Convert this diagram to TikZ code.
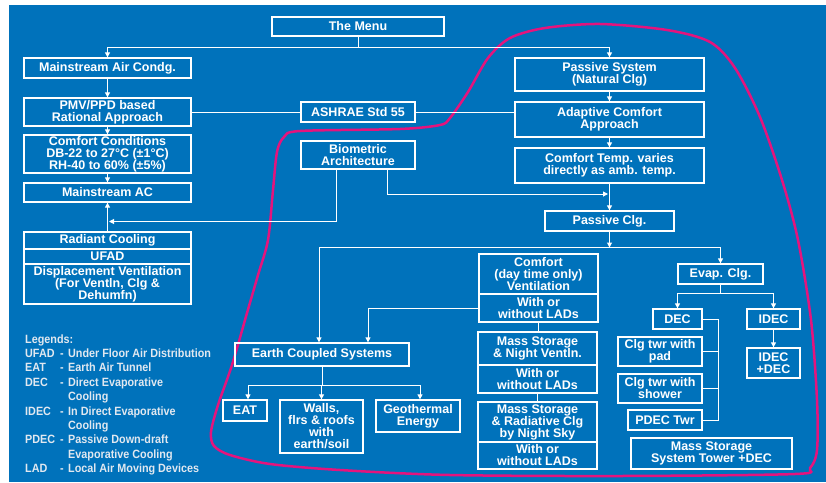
\documentclass[tikz,border=0pt]{standalone}
\usepackage{fontspec}
\setmainfont{Liberation Sans}
\newfontfamily\legendfont[FakeStretch=0.9]{Liberation Sans}
\usetikzlibrary{arrows.meta}
\definecolor{bgblue}{RGB}{0,114,187}
\definecolor{loopmag}{RGB}{228,20,125}
\definecolor{legtext}{RGB}{225,232,240}

\begin{document}
\begin{tikzpicture}[x=1pt, y=-1pt,
    box/.style={draw=white, line width=1.3pt, text=white, inner sep=0pt, align=center,
      font=\bfseries\fontsize{12.5}{12}\selectfont},
    wire/.style={draw=white, line width=1pt},
    arr/.style={-{Triangle[length=5pt,width=5pt]}},
    legend/.style={text=legtext, inner sep=0pt, anchor=base west,
      font=\legendfont\bfseries\fontsize{12}{14}\selectfont}]

  \useasboundingbox (0,0) rectangle (826,482);
  \fill[bgblue] (9,5) rectangle (826,482);

  % the loop round the passive side
  \draw[loopmag, line width=2.5pt] plot[smooth cycle, tension=0.5] coordinates {
    (450,118) (440,125) (400,129) (300,131) (284,137) (277,152) (273,190)
    (268,240) (258,275) (247,313) (232,365) (218,405) (211,432) (214,446)
    (230,455) (270,464) (340,470) (450,475) (620,476) (795,474) (810,468)
    (817,450) (817,400) (811,320) (798,240) (782,180) (760,117) (735,68)
    (710,42) (667,30) (600,24) (545,28) (510,38) (488,58) (468,92)};

  % mainstream side
  \node[box, minimum width=172pt, minimum height=19pt] (menu) at (358,26.5) {The Menu};
  \node[box, minimum width=167pt, minimum height=20pt] (mainac) at (107.5,68) {Mainstream Air Condg.};
  \node[box, minimum width=167pt, minimum height=28pt] (pmv) at (107.5,112) {PMV/PPD based\\Rational Approach};
  \node[box, minimum width=167pt, minimum height=38pt] (cond) at (107.5,154) {Comfort Conditions\\DB-22 to 27°C (±1°C)\\RH-40 to 60\% (±5\%)};
  \node[box, minimum width=167pt, minimum height=19pt] (mac) at (107.5,192.5) {Mainstream AC};
  \node[box, minimum width=167pt, minimum height=17pt] (radiant) at (107.5,240.5) {Radiant Cooling};
  \node[box, minimum width=167pt, minimum height=15pt] (ufad) at (107.5,256.5) {UFAD};
  \node[box, minimum width=167pt, minimum height=40pt] (displ) at (107.5,284) {Displacement Ventilation\\(For Ventln, Clg \&\\Dehumfn)};

  \node[box, minimum width=114pt, minimum height=20pt] (ashrae) at (358,112) {ASHRAE Std 55};
  \node[box, minimum width=114pt, minimum height=28pt] (bio) at (358,155) {Biometric\\Architecture};

  % passive side
  \node[box, minimum width=189pt, minimum height=33pt] (passive) at (609.5,74.5) {Passive System\\(Natural Clg)};
  \node[box, minimum width=189pt, minimum height=35pt] (adaptive) at (609.5,119.5) {Adaptive Comfort\\Approach};
  \node[box, minimum width=189pt, minimum height=35pt] (ctemp) at (609.5,165.5) {Comfort Temp. varies\\directly as amb. temp.};
  \node[box, minimum width=129pt, minimum height=20pt] (pclg) at (609.5,221) {Passive Clg.};

  \node[box, minimum width=119pt, minimum height=40pt] (comfort) at (538.5,274) {Comfort\\(day time only)\\Ventilation};
  \node[box, minimum width=119pt, minimum height=28pt] (lads1) at (538.5,308) {With or\\without LADs};
  \node[box, minimum width=119pt, minimum height=33pt] (msnv) at (537.5,348.5) {Mass Storage\\\& Night Ventln.};
  \node[box, minimum width=119pt, minimum height=28pt] (lads2) at (537.5,379) {With or\\without LADs};
  \node[box, minimum width=119pt, minimum height=40pt] (msrad) at (537.5,422) {Mass Storage\\\& Radiative Clg\\by Night Sky};
  \node[box, minimum width=119pt, minimum height=27pt] (lads3) at (537.5,455.5) {With or\\without LADs};

  \node[box, minimum width=174pt, minimum height=23pt] (ecs) at (322,354.5) {Earth Coupled Systems};
  \node[box, minimum width=44pt, minimum height=21pt] (eat) at (245,410.5) {EAT};
  \node[box, minimum width=83pt, minimum height=53pt] (walls) at (321.5,426.5) {Walls,\\flrs \& roofs\\with\\earth/soil};
  \node[box, minimum width=84pt, minimum height=32pt] (geo) at (418,416) {Geothermal\\Energy};

  \node[box, minimum width=85pt, minimum height=20pt] (evap) at (720.5,274) {Evap. Clg.};
  \node[box, minimum width=49pt, minimum height=20pt] (dec) at (677.5,319) {DEC};
  \node[box, minimum width=53pt, minimum height=20pt] (idec) at (773.5,319) {IDEC};
  \node[box, minimum width=53pt, minimum height=30pt] (idecdec) at (773.5,363) {IDEC\\+DEC};
  \node[box, minimum width=84pt, minimum height=29pt] (pad) at (660,351.5) {Clg twr with\\pad};
  \node[box, minimum width=84pt, minimum height=29pt] (shower) at (660,388.5) {Clg twr with\\shower};
  \node[box, minimum width=74pt, minimum height=20pt] (pdec) at (665,420) {PDEC Twr};
  \node[box, minimum width=161pt, minimum height=31pt] (mstower) at (711.5,453.5) {Mass Storage\\System Tower +DEC};

  % joints
  \coordinate (msplit) at (358,47);
  \coordinate (acin) at (109,221.5);
  \coordinate (pcin) at (608,194);
  \coordinate (psplit) at (609.5,247.5);
  \coordinate (esplit) at (322,385);
  \coordinate (vsplit) at (720.5,293);
  \coordinate (decrail) at (718,318);

  \draw[wire] (menu) -- (msplit);
  \draw[wire, arr] (msplit) -| (mainac);
  \draw[wire, arr] (msplit) -| (passive);

  \draw[wire, arr] (mainac) -- (pmv);
  \draw[wire, arr] (pmv) -- (cond);
  \draw[wire, arr] (cond) -- (mac);
  \draw[wire, arr] (radiant) -- (mac);
  \draw[wire] (pmv) -- (ashrae);
  \draw[wire] (ashrae.east) -- (ashrae.east -| adaptive.west);
  \draw[wire, arr] ([xshift=-22pt]bio.south) |- (acin);
  \draw[wire, arr] ([xshift=29pt]bio.south) |- (pcin);

  \draw[wire, arr] (passive) -- (adaptive);
  \draw[wire, arr] (adaptive) -- (ctemp);
  \draw[wire, arr] (ctemp) -- (pclg);
  \draw[wire, arr] (pclg) -- (psplit);
  \draw[wire, arr] (psplit) -| ([xshift=-3pt]ecs.north);
  \draw[wire, arr] (psplit) -| (evap);

  \draw[wire, arr] (lads1.west) -| ([xshift=46pt]ecs.north);
  \draw[wire] (lads1.south) -- (lads1.south |- msnv.north);
  \draw[wire] (lads2.south) -- (lads2.south |- msrad.north);

  \draw[wire] (ecs) -- (esplit);
  \draw[wire, arr] (esplit) -| ([xshift=3pt]eat.north);
  \draw[wire, arr] (esplit) -| (walls);
  \draw[wire, arr] (esplit) -| ([xshift=2pt]geo.north);

  \draw[wire] (evap) -- (vsplit);
  \draw[wire, arr] (vsplit) -| (dec);
  \draw[wire, arr] (vsplit) -| (idec);
  \draw[wire, arr] (idec) -- (idecdec);
  \draw[wire] (dec.east) -- (dec.east -| decrail) |- (pdec.east);
  \draw[wire] (pad.east) -- (pad.east -| decrail);
  \draw[wire] (shower.east) -- (shower.east -| decrail);

  % legend
  \node[legend] (lghead) at (25,343) {Legends:};
  \node[legend] (lgufad) at (25,357.4) {\makebox[35pt][l]{UFAD}\makebox[8pt][l]{-}Under Floor Air Distribution};
  \node[legend] (lgeat) at (25,371.8) {\makebox[35pt][l]{EAT}\makebox[8pt][l]{-}Earth Air Tunnel};
  \node[legend] (lgdec) at (25,386.2) {\makebox[35pt][l]{DEC}\makebox[8pt][l]{-}Direct Evaporative};
  \node[legend] (lgdecb) at (68,400.6) {Cooling};
  \node[legend] (lgidec) at (25,415) {\makebox[35pt][l]{IDEC}\makebox[8pt][l]{-}In Direct Evaporative};
  \node[legend] (lgidecb) at (68,429.4) {Cooling};
  \node[legend] (lgpdec) at (25,443.8) {\makebox[35pt][l]{PDEC}\makebox[8pt][l]{-}Passive Down-draft};
  \node[legend] (lgpdecb) at (68,458.2) {Evaporative Cooling};
  \node[legend] (lglad) at (25,472.6) {\makebox[35pt][l]{LAD}\makebox[8pt][l]{-}Local Air Moving Devices};
\end{tikzpicture}
\end{document}
